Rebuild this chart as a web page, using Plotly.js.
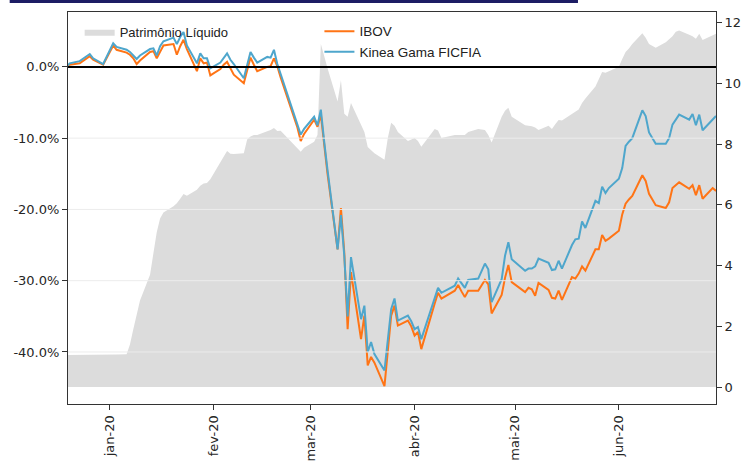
<!DOCTYPE html>
<html><head><meta charset="utf-8">
<script src="https://cdn.plot.ly/plotly-3.0.1.min.js"></script>
<style>html,body{margin:0;padding:0;background:#fff}#chart{width:742px;height:463px}</style>
</head><body><div id="chart"></div>
<script>
const dates = [
 '2019-12-19','2019-12-20','2019-12-23','2019-12-26','2019-12-27','2019-12-30',
 '2020-01-02','2020-01-03','2020-01-06','2020-01-07','2020-01-08','2020-01-09','2020-01-10','2020-01-13','2020-01-14','2020-01-15','2020-01-16','2020-01-17','2020-01-20','2020-01-21','2020-01-22','2020-01-23','2020-01-24','2020-01-27','2020-01-28','2020-01-29','2020-01-30','2020-01-31',
 '2020-02-03','2020-02-04','2020-02-05','2020-02-06','2020-02-07','2020-02-10','2020-02-11','2020-02-12','2020-02-13','2020-02-14','2020-02-17','2020-02-18','2020-02-19','2020-02-20','2020-02-21','2020-02-26','2020-02-27','2020-02-28',
 '2020-03-02','2020-03-03','2020-03-04','2020-03-05','2020-03-06','2020-03-09','2020-03-10','2020-03-11','2020-03-12','2020-03-13','2020-03-16','2020-03-17','2020-03-18','2020-03-19','2020-03-20','2020-03-23','2020-03-24','2020-03-25','2020-03-26','2020-03-27','2020-03-30','2020-03-31',
 '2020-04-01','2020-04-02','2020-04-03','2020-04-06','2020-04-07','2020-04-08','2020-04-09','2020-04-13','2020-04-14','2020-04-15','2020-04-16','2020-04-17','2020-04-20','2020-04-22','2020-04-23','2020-04-24','2020-04-27','2020-04-28','2020-04-29','2020-04-30',
 '2020-05-04','2020-05-05','2020-05-06','2020-05-07','2020-05-08','2020-05-11','2020-05-12','2020-05-13','2020-05-14','2020-05-15','2020-05-18','2020-05-19','2020-05-20','2020-05-21','2020-05-22','2020-05-25','2020-05-26','2020-05-27','2020-05-28','2020-05-29',
 '2020-06-01','2020-06-02','2020-06-03','2020-06-04','2020-06-05','2020-06-08','2020-06-09','2020-06-10','2020-06-12','2020-06-15','2020-06-16','2020-06-17','2020-06-18','2020-06-19','2020-06-22','2020-06-23','2020-06-24','2020-06-25','2020-06-26','2020-06-29','2020-06-30'
];
const ibov = [
 0.0,0.3,0.5,1.5,1.0,0.3,
 3.0,2.4,2.0,1.7,1.2,0.4,0.9,2.1,2.2,1.2,2.1,3.0,3.2,1.7,2.9,3.8,2.5,-0.6,1.2,0.5,0.6,-1.2,
 -0.3,0.3,0.7,-0.3,-1.1,-2.3,-0.4,1.3,0.3,-0.6,0.0,0.1,1.2,0.1,-1.5,-8.5,-10.4,-9.4,
 -7.4,-8.4,-6.7,-11.0,-15.0,-25.6,-19.8,-26.0,-36.8,-28.8,-38.2,-34.9,-41.9,-40.7,-41.5,-44.8,-39.8,-34.9,-33.5,-36.3,-35.6,-36.4,
 -37.7,-37.2,-39.6,-34.6,-33.2,-31.7,-32.5,-31.4,-30.6,-31.5,-32.3,-31.4,-31.4,-29.9,-30.5,-34.6,-32.0,-29.6,-27.8,-30.2,
 -31.6,-31.0,-31.2,-32.1,-30.3,-31.3,-32.4,-32.5,-31.4,-32.7,-29.5,-29.7,-29.0,-28.0,-28.6,-25.6,-25.6,-23.6,-24.4,-24.1,
 -23.0,-20.7,-19.2,-18.6,-18.1,-15.2,-16.0,-17.8,-19.4,-19.8,-19.0,-17.0,-16.6,-16.2,-17.1,-16.6,-18.0,-16.6,-18.5,-17.0,-17.4
];
const kinea = [
 0.0,0.5,0.8,1.8,1.2,0.4,
 3.3,2.8,2.4,2.1,1.6,1.1,1.6,2.5,2.6,1.6,2.9,3.6,4.1,3.2,4.2,4.9,3.0,0.5,1.9,1.2,1.2,-0.2,
 0.6,1.3,1.9,1.0,0.4,-1.6,0.4,2.1,1.3,0.6,1.4,1.3,2.4,0.4,-1.0,-8.0,-9.5,-8.7,
 -7.0,-8.2,-6.0,-10.5,-14.5,-25.6,-20.8,-26.5,-35.0,-26.7,-35.4,-33.5,-40.0,-38.6,-40.3,-42.6,-38.3,-34.0,-32.5,-35.6,-34.9,-35.7,
 -36.8,-36.5,-38.2,-33.7,-32.3,-31.0,-31.7,-30.7,-29.7,-30.4,-31.0,-29.9,-29.7,-27.6,-28.4,-33.0,-29.8,-26.5,-24.6,-27.0,
 -28.6,-28.3,-28.3,-28.0,-26.9,-27.5,-28.5,-28.4,-27.2,-28.3,-25.0,-24.2,-24.1,-21.7,-22.6,-18.8,-19.1,-16.8,-17.7,-17.0,
 -15.7,-14.2,-11.1,-10.5,-10.0,-6.1,-6.9,-9.2,-10.8,-10.8,-10.0,-8.1,-7.4,-6.7,-7.4,-6.6,-8.2,-6.7,-8.9,-7.3,-6.9
];
const patrimonio = [
 1.05,1.05,1.05,1.06,1.06,1.06,
 1.07,1.07,1.08,1.4,1.9,2.4,2.85,3.7,4.4,5.1,5.55,5.75,5.95,6.05,6.2,6.36,6.3,6.5,6.63,6.7,6.72,6.84,
 7.4,7.6,7.77,7.68,7.67,7.7,8.15,8.25,8.3,8.3,8.42,8.46,8.53,8.43,8.44,7.85,7.75,7.88,
 8.08,8.3,11.3,10.9,10.5,9.4,10.1,9.0,8.9,9.35,8.6,8.4,7.9,7.8,7.7,7.48,8.2,8.7,8.6,8.4,8.1,8.15,
 8.2,8.1,7.91,8.35,8.5,8.45,8.2,8.3,8.3,8.3,8.3,8.4,8.5,8.46,8.3,8.05,8.9,9.1,9.2,8.9,
 8.62,8.6,8.59,8.55,8.46,8.6,8.5,8.65,8.79,8.78,8.98,9.05,9.14,9.35,9.5,9.9,10.15,10.37,10.35,10.4,
 10.55,10.8,11.03,11.15,11.3,11.65,11.5,11.3,11.17,11.35,11.45,11.55,11.7,11.74,11.6,11.55,11.47,11.63,11.43,11.6,11.63
];
const monthTicks = ['2020-01-01','2020-02-01','2020-03-01','2020-04-01','2020-05-01','2020-06-01'];
const monthLabels = ['jan-20','fev-20','mar-20','abr-20','mai-20','jun-20'];
const pctTicks = [0,-10,-20,-30,-40];
const pctLabels = ['0.0%','-10.0%','-20.0%','-30.0%','-40.0%'];
const plTicks = [0,2,4,6,8,10,12];

const tickFont = {family:'DejaVu Sans, sans-serif', size:13, color:'#262626'};
const legFont = {family:'Liberation Sans Narrow, Liberation Sans, sans-serif', size:13, color:'#222'};
const frame = '#333';

const traces = [
 {x:dates, y:patrimonio, type:'scatter', mode:'lines', yaxis:'y', fill:'tozeroy',
  fillcolor:'#dcdcdc', line:{width:0, color:'#dcdcdc'}, name:'Patrimônio Líquido', legend:'legend'},
 {x:dates, y:ibov, type:'scatter', mode:'lines', yaxis:'y2', line:{color:'#ff7415', width:2},
  name:'IBOV', legend:'legend2'},
 {x:dates, y:kinea, type:'scatter', mode:'lines', yaxis:'y2', line:{color:'#4ea6cc', width:2},
  name:'Kinea Gama FICFIA', legend:'legend2'}
];

const shapes = [];
pctTicks.slice(1).forEach(v => shapes.push({type:'line', xref:'paper', x0:0, x1:1, yref:'y2', y0:v, y1:v,
  line:{color:'#ececec', width:1}, layer:'above'}));
shapes.push({type:'line', xref:'paper', x0:0, x1:1, yref:'y2', y0:0, y1:0, line:{color:'#000', width:2}, layer:'above'});
shapes.push({type:'line', xref:'paper', x0:-0.09, x1:0.787, yref:'paper', y0:1.027, y1:1.027, line:{color:'#1c1c64', width:3}});

const layout = {
 width:742, height:463, margin:{l:68, r:26, t:12, b:59},
 paper_bgcolor:'#fff', plot_bgcolor:'#fff', showlegend:true,
 xaxis:{type:'date', range:['2019-12-19 12:00','2020-06-30'], tickmode:'array', tickvals:monthTicks, ticktext:monthLabels,
   tickangle:-90, ticks:'outside', ticklen:5, tickcolor:frame, showline:true, mirror:true, linecolor:frame, linewidth:1,
   showgrid:false, zeroline:false, tickfont:tickFont},
 yaxis:{side:'right', range:[-0.56,12.35], tickmode:'array', tickvals:plTicks, ticks:'outside', ticklen:5, tickcolor:frame,
   showline:true, linecolor:frame, showgrid:false, zeroline:false, tickfont:tickFont},
 yaxis2:{overlaying:'y', side:'left', range:[-47.3,7.7], tickmode:'array', tickvals:pctTicks, ticktext:pctLabels,
   ticks:'outside', ticklen:5, tickcolor:frame, showline:true, linecolor:frame, showgrid:false, zeroline:false, tickfont:tickFont},
 legend:{x:0.018, xanchor:'left', y:0.988, yanchor:'top', bgcolor:'rgba(0,0,0,0)', font:legFont},
 legend2:{x:0.388, xanchor:'left', y:0.99, yanchor:'top', bgcolor:'rgba(0,0,0,0)', font:{family:legFont.family, size:13.5, color:'#222'}, tracegroupgap:0},
 shapes:shapes
};
Plotly.newPlot('chart', traces, layout, {displayModeBar:false, staticPlot:true});
</script></body></html>
